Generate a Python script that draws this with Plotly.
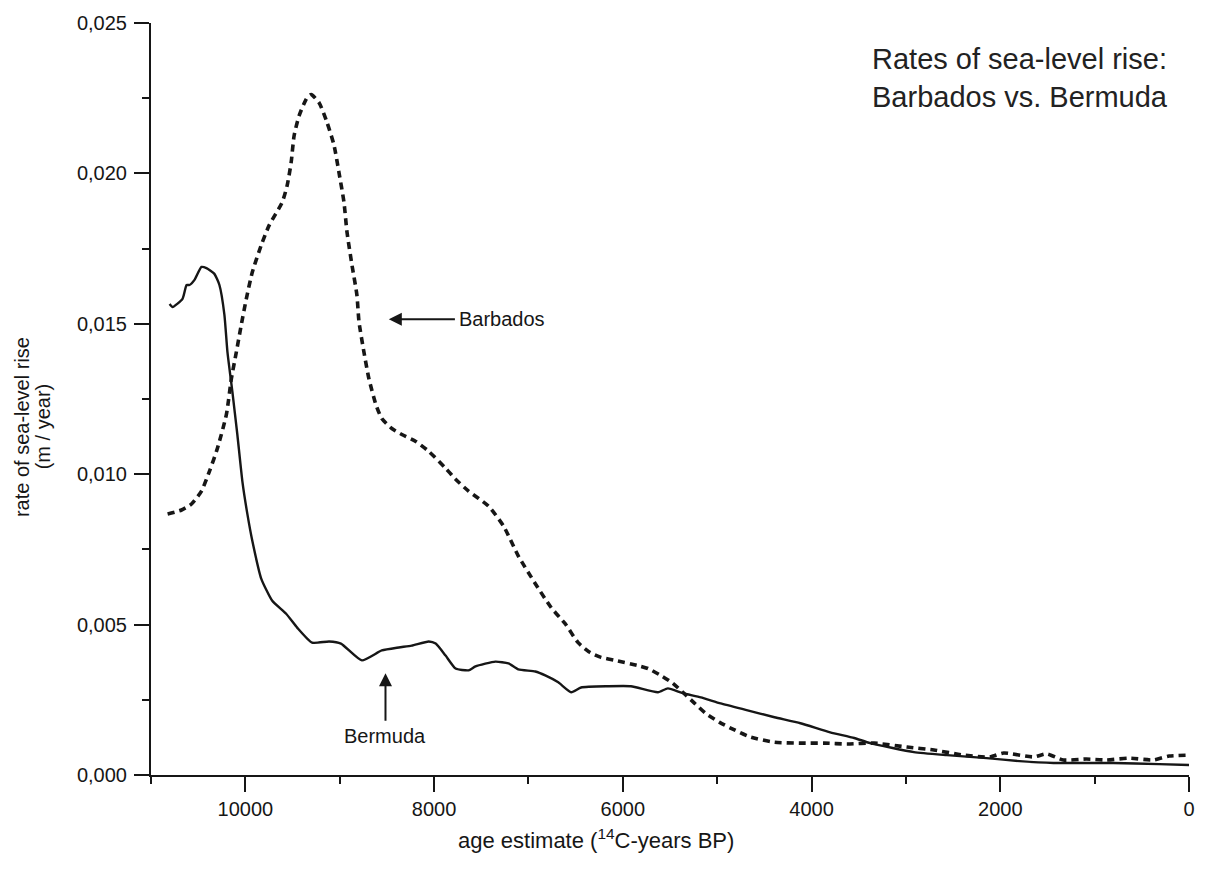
import plotly.graph_objects as go

# Bermuda: rate of sea-level rise (m / year) vs. age (14C-years BP)
bermuda_age = [10803, 10771, 10666, 10623, 10592, 10539, 10465, 10412, 10328, 10275,
               10222, 10190, 10138, 10085, 10032, 9979, 9926, 9831, 9715, 9568,
               9451, 9293, 9113, 8987, 8765, 8554, 8374, 8237, 8057, 7983,
               7878, 7772, 7635, 7561, 7350, 7212, 7107, 6927, 6822, 6684,
               6547, 6442, 6156, 5914, 5628, 5523, 5364, 5174, 4963, 4678,
               4393, 4118, 3802, 3548, 3379, 2915, 2566, 2144, 1795, 1436,
               803, 317, 0]
bermuda_rate = [0.01566, 0.01556, 0.01583, 0.01629, 0.01629, 0.01646, 0.01689, 0.01685, 0.01666, 0.01629,
                0.01530, 0.01407, 0.01275, 0.01132, 0.00977, 0.00868, 0.00778, 0.00652, 0.00579, 0.00536,
                0.00490, 0.00440, 0.00444, 0.00437, 0.00381, 0.00414, 0.00424, 0.00430, 0.00444, 0.00437,
                0.00397, 0.00354, 0.00348, 0.00361, 0.00377, 0.00371, 0.00351, 0.00344, 0.00331, 0.00308,
                0.00275, 0.00291, 0.00295, 0.00295, 0.00275, 0.00288, 0.00272, 0.00258, 0.00238, 0.00215,
                0.00192, 0.00172, 0.00142, 0.00123, 0.00106, 0.00076, 0.00066, 0.00056, 0.00046, 0.00040,
                0.00040, 0.00036, 0.00033]

# Barbados: rate of sea-level rise (m / year) vs. age (14C-years BP)
barbados_age = [10824, 10676, 10571, 10465, 10380, 10296, 10201, 10148, 10095, 10043,
                9990, 9926, 9831, 9747, 9610, 9557, 9515, 9483, 9430, 9346,
                9303, 9219, 9134, 9060, 9008, 8955, 8923, 8870, 8818, 8796,
                8744, 8691, 8617, 8554, 8448, 8342, 8194, 8057, 7878, 7772,
                7635, 7424, 7265, 7107, 6927, 6758, 6611, 6473, 6346, 6230,
                6083, 5840, 5734, 5597, 5470, 5364, 5238, 5122, 4974, 4858,
                4646, 4393, 4118, 3865, 3622, 3337, 2989, 2703, 2387, 2112,
                1964, 1647, 1510, 1331, 1088, 876, 634, 380, 211, 0]
barbados_rate = [0.00868, 0.00881, 0.00901, 0.00944, 0.01010, 0.01086, 0.01199, 0.01318, 0.01407, 0.01497,
                 0.01583, 0.01672, 0.01762, 0.01828, 0.01904, 0.01960, 0.02036, 0.02126, 0.02192, 0.02252,
                 0.02262, 0.02235, 0.02169, 0.02093, 0.02003, 0.01904, 0.01805, 0.01695, 0.01596, 0.01507,
                 0.01407, 0.01318, 0.01232, 0.01185, 0.01152, 0.01132, 0.01109, 0.01076, 0.01020, 0.00983,
                 0.00944, 0.00894, 0.00828, 0.00728, 0.00636, 0.00556, 0.00503, 0.00440, 0.00407, 0.00391,
                 0.00381, 0.00364, 0.00354, 0.00331, 0.00305, 0.00275, 0.00238, 0.00205, 0.00175, 0.00156,
                 0.00126, 0.00109, 0.00106, 0.00106, 0.00103, 0.00106, 0.00093, 0.00083, 0.00066, 0.00060,
                 0.00073, 0.00060, 0.00070, 0.00050, 0.00053, 0.00050, 0.00056, 0.00050, 0.00063, 0.00066]

x_ticks = [10000, 8000, 6000, 4000, 2000, 0]
y_ticks = [0.0, 0.005, 0.010, 0.015, 0.020, 0.025]

INK = "#161616"
FONT = "Liberation Sans, Arial, Helvetica, sans-serif"

fig = go.Figure()
fig.add_trace(go.Scatter(
    x=barbados_age, y=barbados_rate, mode="lines", name="Barbados",
    line=dict(color=INK, width=3.6, dash="7px,5px", shape="spline", smoothing=0.6),
))
fig.add_trace(go.Scatter(
    x=bermuda_age, y=bermuda_rate, mode="lines", name="Bermuda",
    line=dict(color=INK, width=2.4, shape="spline", smoothing=0.5),
))

axis_common = dict(
    showgrid=False, zeroline=False, showline=True, linecolor=INK, linewidth=2,
    ticks="outside", ticklen=15, tickwidth=2, tickcolor=INK,
    tickfont=dict(family=FONT, size=20, color=INK),
)

fig.update_xaxes(
    range=[11000, 0], tickvals=x_ticks, ticktext=[str(v) for v in x_ticks],
    minor=dict(dtick=1000, tick0=0, ticks="outside", ticklen=7, tickwidth=2, tickcolor=INK),
    **axis_common,
)
fig.update_yaxes(
    range=[0, 0.025], tickvals=y_ticks, tickformat=".3f", ticklabelstandoff=3,
    minor=dict(dtick=0.0025, tick0=0, ticks="outside", ticklen=7, tickwidth=2, tickcolor=INK),
    **axis_common,
)

label_font = dict(family=FONT, size=20, color=INK)

annotations = [
    # chart heading
    dict(xref="paper", yref="paper", x=0.693, y=0.976, xanchor="left", yanchor="top",
         text="Rates of sea-level rise:<br>Barbados vs. Bermuda", align="left", showarrow=False,
         font=dict(family=FONT, size=29, color="#222222")),
    # x-axis title
    dict(xref="paper", yref="paper", x=0.429, y=-0.085, xanchor="center", yanchor="middle",
         text="age estimate (<sup>14</sup>C-years BP)", showarrow=False,
         font=dict(family=FONT, size=22, color=INK)),
    # y-axis title, two closely spaced lines
    dict(xref="paper", yref="paper", x=-0.124, y=0.463, xanchor="center", yanchor="middle",
         text="rate of sea-level rise", textangle=-90, showarrow=False, font=label_font),
    dict(xref="paper", yref="paper", x=-0.1045, y=0.463, xanchor="center", yanchor="middle",
         text="(m / year)", textangle=-90, showarrow=False, font=label_font),
    # series labels with arrows pointing at the curves
    dict(x=8480, y=0.01515, ax=7276, ay=0.01515, axref="x", ayref="y", text="Barbados",
         showarrow=True, arrowhead=2, arrowsize=1.3, arrowwidth=2, arrowcolor=INK,
         standoff=0, borderpad=4, font=label_font),
    dict(x=8515, y=0.00338, ax=8515, ay=0.00129, axref="x", ayref="y", text="Bermuda",
         showarrow=True, arrowhead=2, arrowsize=1.3, arrowwidth=2, arrowcolor=INK,
         standoff=0, borderpad=4, font=label_font),
]

fig.update_layout(
    width=1207, height=876,
    margin=dict(l=151, r=14, t=20, b=101),
    paper_bgcolor="white", plot_bgcolor="white",
    showlegend=False, separators=",.",
    annotations=annotations,
    font=dict(family=FONT, color=INK),
)

fig.write_html("out.html")
